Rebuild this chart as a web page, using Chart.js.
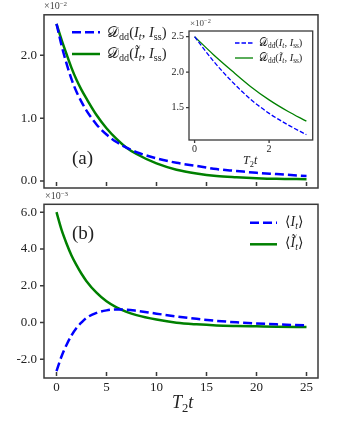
<!doctype html>
<html lang="pt-br">
<head>
<meta charset="UTF-8" />
<title>Distancia e corrente</title>
<script src="https://cdn.jsdelivr.net/npm/chart.js"></script>
<style>
  body { margin: 0; background: #fff; }
  #figura { position: relative; width: 354px; height: 430px; font-family: "Liberation Serif", "DejaVu Serif", serif; color: #222; }
  canvas { position: absolute; left: 0; top: 0; }
  .txt { position: absolute; white-space: nowrap; line-height: 1; }
  .txt sub { font-size: 70%; vertical-align: -0.3em; line-height: 0; }
  .txt sup { font-size: 70%; vertical-align: 0.5em; line-height: 0; }
  svg { position: absolute; left: 0; top: 0; }
</style>
</head>
<body>
<div id="figura">
  <canvas id="graficoTopo" width="354" height="430"></canvas>
  <canvas id="graficoBase" width="354" height="430"></canvas>
  <canvas id="graficoInset" width="354" height="430"></canvas>

  <svg width="354" height="430">
    <line x1="72" y1="32.3" x2="100" y2="32.3" stroke="#0000ff" stroke-width="2.5" stroke-dasharray="9,4" />
    <line x1="72" y1="54" x2="100" y2="54" stroke="#008000" stroke-width="2.5" />
    <line x1="235" y1="43" x2="253" y2="43" stroke="#0000ff" stroke-width="1.3" stroke-dasharray="4.5,2" />
    <line x1="235" y1="58" x2="253" y2="58" stroke="#008000" stroke-width="1.3" />
    <line x1="250" y1="222.7" x2="277" y2="222.7" stroke="#0000ff" stroke-width="2.5" stroke-dasharray="9,4" />
    <line x1="250" y1="244.3" x2="277" y2="244.3" stroke="#008000" stroke-width="2.5" />
  </svg>

  <!-- textos do painel (a) -->
  <div class="txt" style="left:44px; top:1px; font-size:10px; color:#444;">×10<sup>−2</sup></div>
  <div class="txt" style="left:107px; top:25px; font-size:14.5px;">𝒟<sub>dd</sub>(<i>I</i><sub><i>t</i></sub>, <i>I</i><sub>ss</sub>)</div>
  <div class="txt" style="left:107px; top:46px; font-size:14.5px;">𝒟<sub>dd</sub>(<i>Ĩ</i><sub><i>t</i></sub>, <i>I</i><sub>ss</sub>)</div>
  <div class="txt" style="left:72px; top:148px; font-size:19px;">(a)</div>

  <!-- textos do inset -->
  <div class="txt" style="left:190px; top:19px; font-size:9px; color:#444;">×10<sup>−2</sup></div>
  <div class="txt" style="left:259px; top:37.5px; font-size:10.5px;">𝒟<sub>dd</sub>(<i>I</i><sub><i>t</i></sub>, <i>I</i><sub>ss</sub>)</div>
  <div class="txt" style="left:259px; top:52.5px; font-size:10.5px;">𝒟<sub>dd</sub>(<i>Ĩ</i><sub><i>t</i></sub>, <i>I</i><sub>ss</sub>)</div>
  <div class="txt" style="left:243px; top:154px; font-size:12px;"><i>T</i><sub>2</sub><i>t</i></div>

  <!-- textos do painel (b) -->
  <div class="txt" style="left:45px; top:191px; font-size:10px; color:#444;">×10<sup>−3</sup></div>
  <div class="txt" style="left:285px; top:215px; font-size:14px;">⟨<i>I</i><sub><i>t</i></sub>⟩</div>
  <div class="txt" style="left:285px; top:236px; font-size:14px;">⟨<i>Ĩ</i><sub><i>t</i></sub>⟩</div>
  <div class="txt" style="left:72px; top:223px; font-size:19px;">(b)</div>
  <div class="txt" style="left:172px; top:393px; font-size:18px;"><i>T</i><sub>2</sub><i>t</i></div>
</div>

<script>
  // tempo (T2 t)
  const tempo = [0, 0.5, 1, 1.5, 2, 2.5, 3, 4, 5, 6, 7, 8, 10, 12, 14, 16, 18, 20, 22, 25];

  // painel (a): D_dd em unidades de 1e-2
  const ddAzul = [2.50, 2.16, 1.87, 1.62, 1.42, 1.26, 1.12, 0.90, 0.74, 0.62, 0.53, 0.46, 0.36, 0.29, 0.24, 0.19, 0.16, 0.13, 0.11, 0.08];
  const ddVerde = [2.50, 2.25, 2.02, 1.80, 1.61, 1.45, 1.31, 1.05, 0.84, 0.67, 0.53, 0.43, 0.28, 0.18, 0.12, 0.08, 0.06, 0.045, 0.035, 0.03];

  // painel (b): <I_t> em unidades de 1e-3
  const iAzul = [-2.65, -1.85, -1.22, -0.70, -0.30, 0.00, 0.25, 0.52, 0.66, 0.71, 0.70, 0.64, 0.48, 0.33, 0.20, 0.09, 0.01, -0.05, -0.10, -0.16];
  const iVerde = [6.00, 5.05, 4.30, 3.65, 3.12, 2.65, 2.25, 1.62, 1.15, 0.82, 0.58, 0.40, 0.16, -0.01, -0.10, -0.16, -0.19, -0.21, -0.23, -0.25];

  // ticks
  const ticksTempo = [0, 5, 10, 15, 20, 25];
  const ticksTopo = [0, 1, 2];
  const ticksBase = [-2, 0, 2, 4, 6];
  const ticksInsetX = [0, 2];
  const ticksInsetY = [1.5, 2, 2.5];

  const AZUL = "#0000ff";
  const VERDE = "#008000";

  function pontos(ys, tMax) {
    let lista = [];
    tempo.forEach((t, i) => {
      if (tMax === undefined || t <= tMax) lista.push({ x: t, y: ys[i] });
    });
    return lista;
  }

  // moldura + ticks desenhados com as escalas do proprio chart
  const moldura = {
    id: "moldura",
    beforeDraw(chart, args, opts) {
      if (!opts.fundo) return;
      const a = chart.chartArea;
      chart.ctx.save();
      chart.ctx.fillStyle = "#fff";
      chart.ctx.fillRect(a.left, a.top, a.right - a.left, a.bottom - a.top);
      chart.ctx.restore();
    },
    afterDraw(chart, args, opts) {
      const ctx = chart.ctx;
      const a = chart.chartArea;
      const sx = chart.scales.x;
      const sy = chart.scales.y;
      ctx.save();
      ctx.strokeStyle = "#3a3a3a";
      ctx.lineWidth = opts.largura;
      ctx.strokeRect(a.left, a.top, a.right - a.left, a.bottom - a.top);
      ctx.beginPath();
      sy.ticks.forEach((t) => {
        const py = sy.getPixelForValue(t.value);
        ctx.moveTo(a.left - opts.tam, py);
        ctx.lineTo(a.left, py);
      });
      sx.ticks.forEach((t) => {
        const px = sx.getPixelForValue(t.value);
        if (opts.xDentro) {
          ctx.moveTo(px, a.bottom - 2);
          ctx.lineTo(px, a.bottom - 2 - opts.tam);
        } else {
          ctx.moveTo(px, a.bottom);
          ctx.lineTo(px, a.bottom + opts.tam);
        }
      });
      ctx.stroke();
      ctx.restore();
    },
  };

  function config(o) {
    return {
      type: "line",
      data: {
        datasets: [
          {
            data: o.azul,
            borderColor: AZUL,
            borderWidth: o.lw,
            borderDash: o.dash,
            pointRadius: 0,
            cubicInterpolationMode: "monotone",
          },
          {
            data: o.verde,
            borderColor: VERDE,
            borderWidth: o.lw,
            pointRadius: 0,
            cubicInterpolationMode: "monotone",
          },
        ],
      },
      options: {
        responsive: false,
        animation: false,
        devicePixelRatio: 1,
        layout: { padding: o.padding },
        plugins: {
          legend: { display: false },
          tooltip: { enabled: false },
          moldura: { largura: o.borda, tam: o.tam, xDentro: o.xDentro, fundo: o.fundo },
        },
        scales: {
          x: {
            type: "linear",
            min: o.xMin,
            max: o.xMax,
            grid: { display: false, drawTicks: false },
            border: { display: false },
            afterBuildTicks: (s) => { s.ticks = o.xTicks.map((v) => ({ value: v })); },
            afterFit: (s) => { s.height = o.alturaX; },
            ticks: {
              display: o.xLabels,
              padding: o.padX,
              color: "#222",
              font: { family: "Liberation Serif", size: o.fonte },
              callback: (v) => String(v),
            },
          },
          y: {
            type: "linear",
            min: o.yMin,
            max: o.yMax,
            grid: { display: false, drawTicks: false },
            border: { display: false },
            afterBuildTicks: (s) => { s.ticks = o.yTicks.map((v) => ({ value: v })); },
            afterFit: (s) => { s.width = o.larguraY; },
            ticks: {
              padding: o.padY,
              color: "#222",
              font: { family: "Liberation Serif", size: o.fonte },
              callback: (v) => Number(v).toFixed(1),
            },
          },
        },
      },
      plugins: [moldura],
    };
  }

  function plotarGraficos() {
    new Chart(document.getElementById("graficoTopo"), config({
      azul: pontos(ddAzul), verde: pontos(ddVerde), lw: 2.5, dash: [9, 4],
      padding: { left: 0, top: 14.5, right: 36 },
      xMin: -1.25, xMax: 26.15, yMin: -0.111, yMax: 2.644,
      xTicks: ticksTempo, yTicks: ticksTopo, xLabels: false,
      alturaX: 242, larguraY: 44, padX: 2, padY: 7, fonte: 13,
      borda: 1.5, tam: 4, xDentro: true, fundo: false,
    }));

    new Chart(document.getElementById("graficoBase"), config({
      azul: pontos(iAzul), verde: pontos(iVerde), lw: 2.5, dash: [9, 4],
      padding: { left: 0, top: 204.3, right: 36 },
      xMin: -1.25, xMax: 26.15, yMin: -3.02, yMax: 6.43,
      xTicks: ticksTempo, yTicks: ticksBase, xLabels: true,
      alturaX: 52, larguraY: 44, padX: 2, padY: 7, fonte: 13,
      borda: 1.5, tam: 4, xDentro: true, fundo: false,
    }));

    new Chart(document.getElementById("graficoInset"), config({
      azul: pontos(ddAzul, 3), verde: pontos(ddVerde, 3), lw: 1.3, dash: [4.5, 2],
      padding: { left: 169, top: 31, right: 41.3 },
      xMin: -0.15, xMax: 3.17, yMin: 1.045, yMax: 2.58,
      xTicks: ticksInsetX, yTicks: ticksInsetY, xLabels: true,
      alturaX: 290, larguraY: 20, padX: 3, padY: 5, fonte: 10,
      borda: 1.3, tam: 3, xDentro: false, fundo: true,
    }));
  }

  window.onload = plotarGraficos;
</script>
</body>
</html>
